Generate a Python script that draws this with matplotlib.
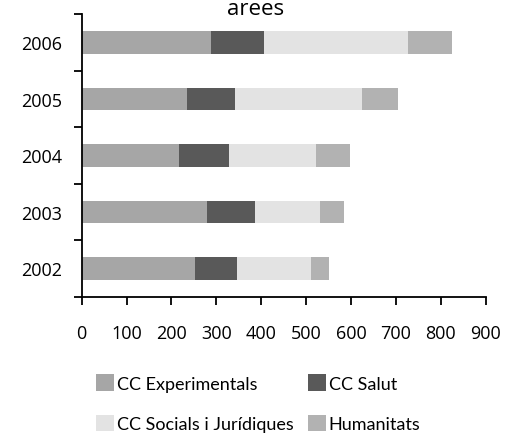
import matplotlib
matplotlib.use("Agg")
import matplotlib.pyplot as plt
from matplotlib.patches import Patch

# data
years = ["2002", "2003", "2004", "2005", "2006"]
experimentals = [252, 279, 217, 235, 288]
salut = [94, 107, 111, 106, 118]
socials = [165, 145, 194, 283, 321]
humanitats = [40, 53, 76, 81, 98]
x_ticks = [0, 100, 200, 300, 400, 500, 600, 700, 800, 900]

series = [
    ("CC Experimentals", experimentals, "#a6a6a6"),
    ("CC Salut", salut, "#595959"),
    ("CC Socials i Jurídiques", socials, "#e3e3e3"),
    ("Humanitats", humanitats, "#b2b2b2"),
]

plt.rcParams["font.family"] = ["Open Sans", "DejaVu Sans"]

fig = plt.figure(figsize=(5.05, 4.35), dpi=100)
ax = fig.add_axes([0.1618, 0.3156, 0.8, 0.6499])

ypos = range(len(years))
left = [0] * len(years)
for label, vals, color in series:
    ax.barh(ypos, vals, left=left, height=0.4, color=color, label=label)
    left = [a + b for a, b in zip(left, vals)]

ax.set_xlim(0, 900)
ax.set_ylim(-0.5, 4.5)
ax.set_xticks(x_ticks)
ax.set_yticks(list(ypos))
ax.set_yticklabels(years)
ax.set_yticks([i - 0.5 for i in range(len(years) + 1)], minor=True)

for side in ("top", "right"):
    ax.spines[side].set_visible(False)
for side in ("left", "bottom"):
    ax.spines[side].set_linewidth(1.3)

ax.tick_params(axis="x", direction="out", length=6, width=1.3, pad=14, labelsize=13)
ax.tick_params(axis="y", which="major", length=0, pad=14, labelsize=13)
ax.tick_params(axis="y", which="minor", direction="out", length=6, width=1.3)

fig.text(0.507, 1 - 15 / 435, "arees", ha="center", va="baseline", fontsize=16)

# legend fills column-wise, so order entries to read row-wise
order = [0, 2, 1, 3]
handles = [Patch(facecolor=series[i][2], edgecolor="none") for i in order]
labels = [series[i][0] for i in order]
fig.legend(handles, labels, ncol=2, loc="upper left",
           bbox_to_anchor=(0.19, 0.137), frameon=False,
           prop={"family": "Lato", "size": 13},
           handlelength=1.0, handleheight=1.0, handletextpad=0.15,
           columnspacing=0.8, labelspacing=1.3, borderpad=0, borderaxespad=0)

fig.savefig("out.png", dpi=100)
